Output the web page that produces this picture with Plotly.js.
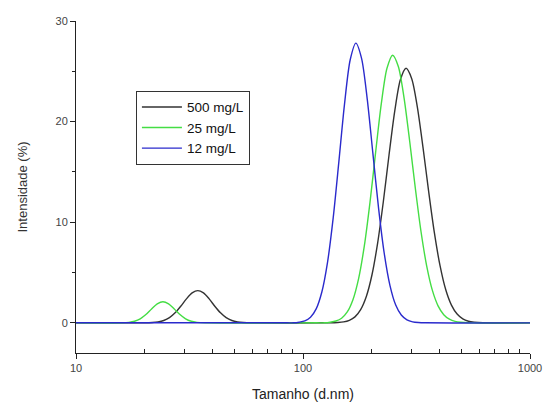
<!DOCTYPE html>
<html>
<head>
<meta charset="utf-8">
<script src="https://cdn.plot.ly/plotly-3.0.1.min.js"></script>
<style>html,body{margin:0;padding:0;background:#fff;}#chart{width:545px;height:403px;}</style>
</head>
<body>
<div id="chart"></div>
<script>
const seriesNames = ["500 mg/L", "25 mg/L", "12 mg/L"];

// 500 mg/L
const size500 = [9, 20, 21.71, 22.99, 24.35, 25.80, 27.33, 28.94, 30.66, 32.48, 34.40, 36.44, 38.60, 40.88, 43.31, 45.87, 48.59, 51.47, 54.52, 60, 130,
  142.55, 151.00, 159.94, 169.42, 179.46, 190.09, 201.35, 213.28, 225.92, 239.30, 253.48, 268.49, 284.40,
  301.25, 319.10, 338.00, 358.03, 379.24, 401.71, 425.51, 450.72, 477.43, 505.72, 535.69, 567.43, 620, 1100];
const int500 = [0, 0, 0.03, 0.09, 0.23, 0.51, 0.99, 1.65, 2.38, 2.97, 3.2, 2.97, 2.38, 1.65, 0.99, 0.51, 0.23, 0.09, 0.03, 0, 0,
  0.03, 0.09, 0.25, 0.59, 1.31, 2.62, 4.78, 7.95, 12.06, 16.68, 21.02, 24.16, 25.3,
  24.27, 21.42, 17.39, 12.99, 8.93, 5.65, 3.28, 1.76, 0.87, 0.39, 0.16, 0.06, 0, 0];

// 25 mg/L
const size25 = [9, 16, 17.10, 18.11, 19.18, 20.32, 21.52, 22.80, 24.15, 25.58, 27.10, 28.70, 30.40, 32.20, 34.11, 37, 115,
  124.46, 131.83, 139.64, 147.91, 156.68, 165.96, 175.79, 186.21, 197.24, 208.92, 221.30, 234.41, 248.30,
  263.01, 278.60, 295.11, 312.60, 331.12, 350.74, 371.52, 393.54, 416.86, 441.56, 467.72, 495.44, 540, 1100];
const int25 = [0, 0, 0.05, 0.16, 0.40, 0.82, 1.38, 1.89, 2.1, 1.89, 1.38, 0.82, 0.40, 0.16, 0.05, 0, 0,
  0, 0.06, 0.18, 0.46, 1.08, 2.30, 4.40, 7.62, 11.95, 16.96, 21.78, 25.30, 26.6,
  25.48, 22.39, 18.05, 13.35, 9.05, 5.64, 3.22, 1.69, 0.81, 0.36, 0.14, 0.05, 0, 0];

// 12 mg/L
const size12 = [9, 85, 90.79, 96.17, 101.87, 107.90, 114.29, 121.06, 128.24, 135.83, 143.88, 152.40, 161.43, 171.00,
  181.13, 191.86, 203.23, 215.27, 228.02, 241.53, 255.84, 271.00, 287.06, 304.06, 322.08, 345, 1100];
const int12 = [0, 0, 0, 0.06, 0.19, 0.55, 1.38, 3.06, 6.01, 10.43, 16.02, 21.76, 26.15, 27.8,
  26.29, 22.24, 16.82, 11.38, 6.89, 3.73, 1.80, 0.78, 0.30, 0.10, 0.03, 0, 0];

const xTickVals = [10, 100, 1000];
const xTickText = ["10", "100", "1000"];
const xMinorVals = [20, 30, 40, 50, 60, 70, 80, 90, 200, 300, 400, 500, 600, 700, 800, 900];
const yTickVals = [0, 10, 20, 30];
const yMinorVals = [5, 15, 25];

const colors = ["#333333", "#44dd44", "#2a2acc"];
const xs = [size500, size25, size12];
const ys = [int500, int25, int12];
const traces = ys.map((y, i) => ({
  x: xs[i], y: y, type: "scatter", mode: "lines", name: seriesNames[i],
  line: {color: colors[i], width: 1.4, shape: "spline", smoothing: 0.8}
}));

const layout = {
  width: 545, height: 403,
  margin: {l: 76, r: 15, t: 21, b: 50},
  paper_bgcolor: "#fff", plot_bgcolor: "#fff",
  font: {family: "Liberation Sans, Arial, sans-serif", color: "#333"},
  showlegend: true,
  legend: {x: 0.132, y: 0.79, xanchor: "left", yanchor: "top",
    bgcolor: "#fff", bordercolor: "#333", borderwidth: 1,
    font: {size: 13.5, color: "#111"}, tracegroupgap: 0, itemwidth: 40},
  xaxis: {
    type: "log", range: [1, 3], showgrid: false, zeroline: false,
    showline: true, linecolor: "#222", linewidth: 1,
    tickmode: "array", tickvals: xTickVals, ticktext: xTickText,
    ticks: "outside", ticklen: 5, tickcolor: "#222",
    tickfont: {size: 11, color: "#444"},
    minor: {tickmode: "array", tickvals: xMinorVals, ticks: "inside", ticklen: 4, tickcolor: "#222", showgrid: false},
    title: {text: "Tamanho (d.nm)", font: {size: 14, color: "#222"}, standoff: 15}
  },
  yaxis: {
    range: [-3, 30], showgrid: false, zeroline: false,
    showline: true, linecolor: "#222", linewidth: 1,
    tickmode: "array", tickvals: yTickVals,
    ticks: "outside", ticklen: 5, tickcolor: "#222",
    tickfont: {size: 11, color: "#444"},
    minor: {tickmode: "array", tickvals: yMinorVals, ticks: "outside", ticklen: 3, tickcolor: "#222", showgrid: false},
    title: {text: "Intensidade (%)", font: {size: 13, color: "#333"}, standoff: 24}
  }
};
Plotly.newPlot("chart", traces, layout, {displayModeBar: false, staticPlot: true});
</script>
</body>
</html>
